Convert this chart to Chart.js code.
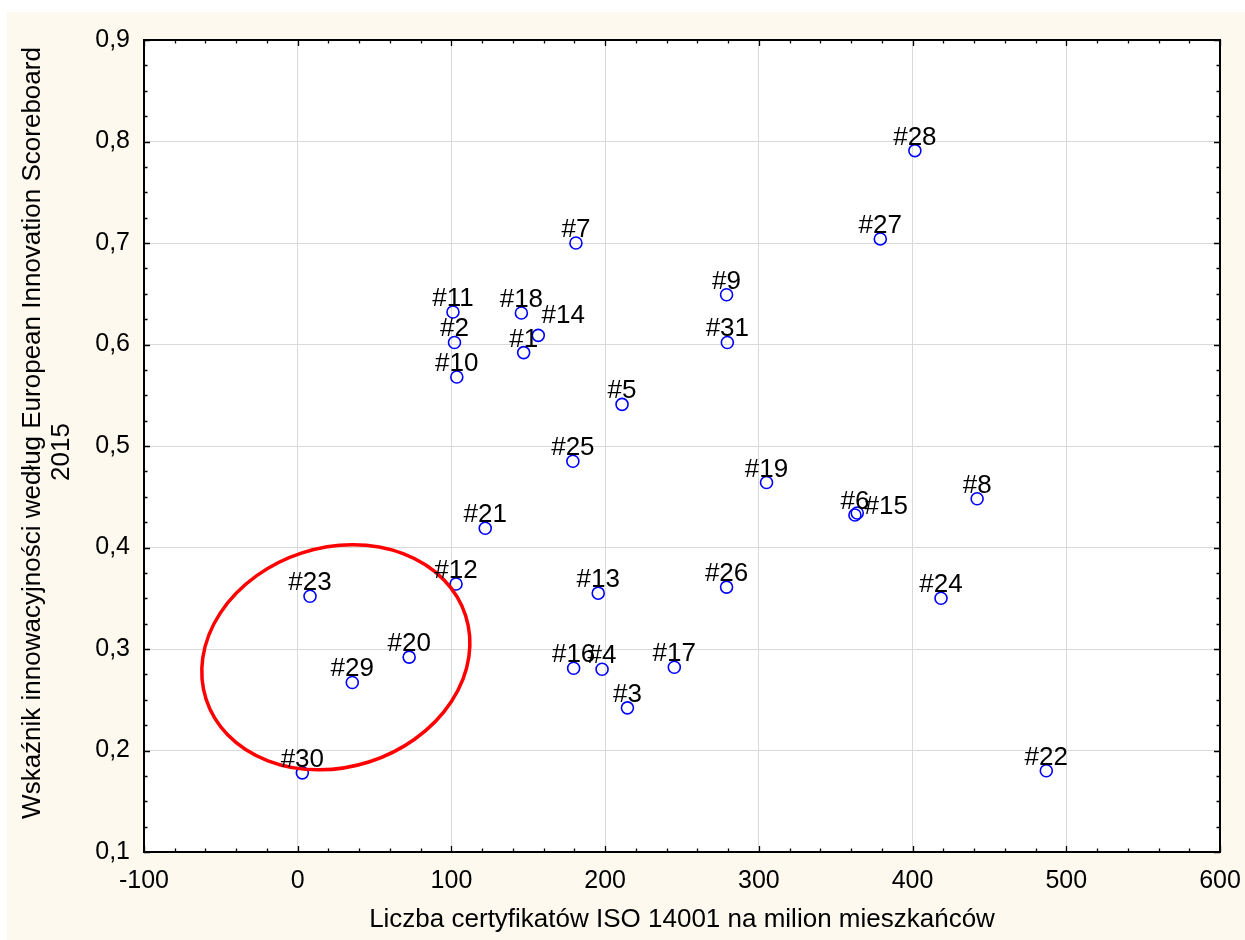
<!DOCTYPE html>
<html>
<head>
<meta charset="utf-8">
<script src="https://cdn.jsdelivr.net/npm/chart.js@4.4.1/dist/chart.umd.min.js"></script>
<style>
  body { margin: 0; background: #fff; }
  canvas { display: block; }
</style>
</head>
<body>
<canvas id="chart" width="1245" height="940"></canvas>
<script>
// Scatter: ISO 14001 certificates vs innovation index (EIS 2015)

const pointNames = ['#1', '#2', '#3', '#4', '#5', '#6', '#7', '#8', '#9', '#10',
  '#11', '#12', '#13', '#14', '#15', '#16', '#17', '#18', '#19', '#20',
  '#21', '#22', '#23', '#24', '#25', '#26', '#27', '#28', '#29', '#30', '#31'];
const isoPerMillion = [147, 102, 214.5, 198, 211, 362.5, 181, 442, 279, 103.5,
  101, 103, 195.5, 156.5, 364, 179.5, 245, 145.5, 305, 72.5,
  122, 487, 8, 418.5, 179, 279, 379, 401.5, 35.5, 3, 279.5];
const innovationIndex = [0.592, 0.602, 0.242, 0.280, 0.541, 0.432, 0.700, 0.448, 0.649, 0.568,
  0.632, 0.364, 0.355, 0.609, 0.434, 0.281, 0.282, 0.631, 0.464, 0.292,
  0.419, 0.180, 0.352, 0.350, 0.485, 0.361, 0.704, 0.791, 0.267, 0.178, 0.602];

const xTickStep = 100;
const yTickStep = 0.1;

const xTitle = 'Liczba certyfikatów ISO 14001 na milion mieszkańców';
const yTitleLines = ['Wskaźnik innowacyjności według European Innovation Scoreboard', '2015'];

// labels that were nudged aside in the original to avoid overlap
const labelShift = { '#14': [25, -6], '#15': [29, 7] };

const FONT = '"Liberation Sans", Arial, sans-serif';

const points = isoPerMillion.map((x, i) => ({ x: x, y: innovationIndex[i] }));

const backdrop = {
  id: 'backdrop',
  beforeDraw(chart) {
    const ctx = chart.ctx;
    const a = chart.chartArea;
    ctx.save();
    ctx.fillStyle = '#ffffff';
    ctx.fillRect(0, 0, chart.width, chart.height);
    ctx.fillStyle = '#fdf9ef';
    ctx.fillRect(7, 12, chart.width - 7, chart.height - 12);
    ctx.fillStyle = '#ffffff';
    ctx.fillRect(a.left, a.top, a.right - a.left, a.bottom - a.top);
    ctx.restore();
  }
};

const frameTicks = {
  id: 'frameTicks',
  afterDraw(chart) {
    const ctx = chart.ctx;
    const a = chart.chartArea;
    const xs = chart.scales.x, ys = chart.scales.y;
    ctx.save();
    ctx.strokeStyle = '#000';
    ctx.lineWidth = 1.3;
    ctx.beginPath();
    // x ticks (major every 100, minor every 20), bottom and top, pointing inward
    for (let k = 0; k <= 35; k++) {
      const v = xs.min + k * xTickStep / 5;
      const len = k % 5 === 0 ? 6 : 3.5;
      const px = Math.round(xs.getPixelForValue(v)) + 0.5;
      ctx.moveTo(px, a.bottom); ctx.lineTo(px, a.bottom - len);
      ctx.moveTo(px, a.top); ctx.lineTo(px, a.top + len);
    }
    // y ticks (major every 0.1, minor every 0.025), left and right
    for (let k = 0; k <= 32; k++) {
      const v = ys.min + k * yTickStep / 4;
      const len = k % 4 === 0 ? 6 : 3.5;
      const py = Math.round(ys.getPixelForValue(v)) + 0.5;
      ctx.moveTo(a.left, py); ctx.lineTo(a.left + len, py);
      ctx.moveTo(a.right, py); ctx.lineTo(a.right - len, py);
    }
    ctx.stroke();
    ctx.lineWidth = 2;
    ctx.strokeRect(a.left, a.top, a.right - a.left, a.bottom - a.top);

    // rotated y axis title, two lines (second one sits a bit lower, as in the original)
    const mid = (a.top + a.bottom) / 2;
    ctx.fillStyle = '#000';
    ctx.font = '26px ' + FONT;
    ctx.textAlign = 'center';
    ctx.textBaseline = 'middle';
    [[33, mid - 13], [62, mid + 6]].forEach((pos, i) => {
      ctx.save();
      ctx.translate(pos[0], pos[1]);
      ctx.rotate(-Math.PI / 2);
      ctx.fillText(yTitleLines[i], 0, 0);
      ctx.restore();
    });
    ctx.restore();
  }
};

const ellipseAndLabels = {
  id: 'ellipseAndLabels',
  afterDatasetsDraw(chart) {
    const ctx = chart.ctx;
    const xs = chart.scales.x, ys = chart.scales.y;
    const unit = xs.getPixelForValue(1) - xs.getPixelForValue(0);
    ctx.save();
    // red ellipse around the low group
    ctx.strokeStyle = '#ff0000';
    ctx.lineWidth = 3.5;
    ctx.beginPath();
    ctx.ellipse(xs.getPixelForValue(24.8), ys.getPixelForValue(0.2918),
      88.7 * unit, 71.4 * unit, -17.9 * Math.PI / 180, 0, Math.PI * 2);
    ctx.stroke();
    // point labels
    ctx.fillStyle = '#000';
    ctx.font = '26px ' + FONT;
    ctx.textAlign = 'center';
    ctx.textBaseline = 'alphabetic';
    const meta = chart.getDatasetMeta(0);
    meta.data.forEach((el, i) => {
      const name = pointNames[i];
      const s = labelShift[name] || [0, 0];
      ctx.fillText(name, el.x + s[0], el.y - 6 + s[1]);
    });
    ctx.restore();
  }
};

new Chart(document.getElementById('chart'), {
  type: 'scatter',
  data: {
    datasets: [{
      data: points,
      pointRadius: 6,
      pointBorderWidth: 1.6,
      pointBorderColor: '#0000ff',
      pointBackgroundColor: 'rgba(255,255,255,0)'
    }]
  },
  options: {
    responsive: false,
    devicePixelRatio: 1,
    animation: false,
    events: [],
    layout: { padding: { top: 40, right: 25, left: 0, bottom: 0 } },
    plugins: { legend: { display: false }, tooltip: { enabled: false } },
    scales: {
      x: {
        type: 'linear',
        min: -100, max: 600,
        afterFit: s => { s.height = 88; s.paddingLeft = 0; s.paddingRight = 0; },
        ticks: {
          stepSize: xTickStep,
          color: '#000',
          padding: 14,
          font: { family: FONT, size: 25 },
          callback: v => String(v)
        },
        grid: { color: '#d9d9d9', lineWidth: 1, drawTicks: false },
        border: { display: false },
        title: {
          display: true,
          text: xTitle,
          color: '#000',
          font: { family: FONT, size: 26 },
          padding: { top: 0, bottom: 5 }
        }
      },
      y: {
        type: 'linear',
        min: 0.1, max: 0.9,
        afterFit: s => { s.width = 144; s.paddingTop = 0; s.paddingBottom = 0; },
        ticks: {
          stepSize: yTickStep,
          color: '#000',
          padding: 14,
          font: { family: FONT, size: 25 },
          callback: v => v.toFixed(1).replace('.', ',')
        },
        grid: { color: '#d9d9d9', lineWidth: 1, drawTicks: false },
        border: { display: false },
        title: { display: false }
      }
    }
  },
  plugins: [backdrop, frameTicks, ellipseAndLabels]
});
</script>
</body>
</html>
